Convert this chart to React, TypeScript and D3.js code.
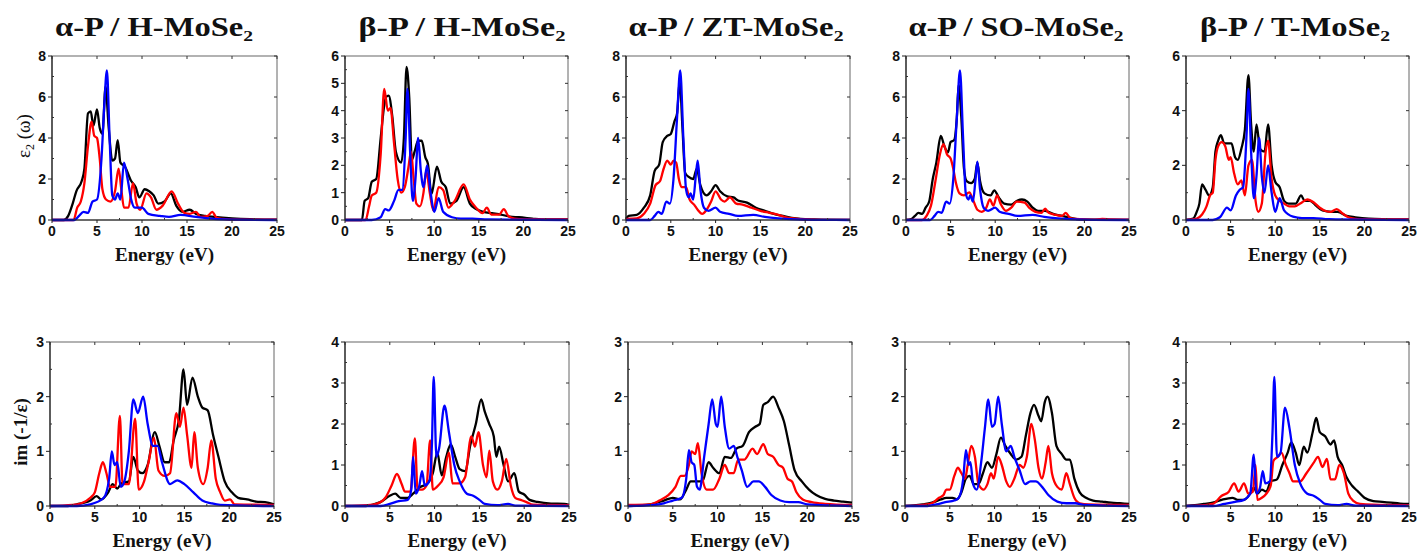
import React from "react";
import * as d3 from "d3";

type Pt = [number, number];

// ---- top row: eps2 (imaginary dielectric) ----
const aHEpsBlack: Pt[] = [[0,0],[1.3,0],[1.8,0.2],[2.3,0.8],[2.7,1.4],[3.3,1.9],[3.6,2.5],[4.0,5.2],[4.3,5.3],[4.6,4.6],[5.0,5.4],[5.3,4.5],[5.6,4.2],[5.95,6.5],[6.3,4.5],[6.7,2.9],[7.0,3.0],[7.3,3.9],[7.6,2.8],[8.1,2.6],[8.8,1.9],[9.3,1.6],[9.7,1.1],[10.3,1.5],[10.8,1.4],[11.3,1.2],[11.8,0.8],[12.5,0.9],[13.2,1.3],[13.8,0.7],[14.5,0.4],[15.3,0.5],[16,0.3],[17,0.2],[18,0.15],[20,0.08],[22,0.04],[25,0.02]];
const aHEpsRed: Pt[] = [[0,0],[2.4,0],[2.8,0.6],[3.2,0.9],[3.6,1.8],[4.0,3.6],[4.4,4.8],[4.7,4.1],[5.0,4.0],[5.3,3.0],[5.6,1.5],[6.0,1.0],[6.5,0.9],[7.0,1.4],[7.4,2.5],[7.7,1.5],[8.0,0.6],[8.5,0.6],[9.0,1.8],[9.4,0.8],[9.8,0.5],[10.5,1.3],[11.0,1.1],[11.6,0.5],[12.3,0.7],[13.3,1.4],[14.0,0.8],[14.7,0.35],[15.3,0.3],[16.0,0.4],[16.5,0.15],[17.3,0.2],[17.8,0.4],[18.3,0.1],[19,0.05],[20,0.02],[25,0.02]];
const aHEpsBlue: Pt[] = [[0,0],[2.5,0],[3.0,0.2],[3.5,0.4],[4.0,0.35],[4.5,0.9],[5.0,1.0],[5.5,3.0],[5.8,5.5],[6.1,7.3],[6.4,4.0],[6.7,1.2],[7.0,1.0],[7.3,1.3],[7.6,1.0],[8.0,2.8],[8.4,2.0],[8.8,1.0],[9.2,0.6],[10.0,0.6],[10.7,0.3],[12,0.2],[13,0.15],[14.3,0.25],[16,0.15],[18,0.05],[20,0.02],[25,0]];

const bHEpsBlack: Pt[] = [[0,0],[1.9,0],[2.2,0.7],[2.6,0.8],[3.0,1.4],[3.5,1.5],[4.0,3.0],[4.4,4.2],[4.6,4.5],[4.9,4.55],[5.3,3.8],[5.7,2.5],[6.3,2.1],[6.6,3.0],[6.9,5.6],[7.2,4.5],[7.5,2.2],[7.8,2.5],[8.2,2.9],[8.6,2.9],[9.0,2.3],[9.3,2.05],[9.7,0.95],[10.3,1.95],[10.8,1.4],[11.3,1.2],[11.8,0.6],[12.5,0.7],[13.3,1.2],[14.0,0.6],[14.7,0.4],[15.5,0.3],[16.5,0.25],[17.5,0.2],[18.5,0.12],[19.5,0.1],[21,0.05],[22,0.02],[25,0.02]];
const bHEpsRed: Pt[] = [[0,0],[2.3,0],[2.7,0.5],[3.0,0.9],[3.5,1.0],[4.0,2.4],[4.4,4.8],[4.8,4.0],[5.1,4.1],[5.5,2.8],[5.9,1.5],[6.3,1.0],[6.7,1.2],[7.1,1.9],[7.4,2.5],[7.7,1.5],[8.0,0.6],[8.4,0.5],[8.8,1.0],[9.1,1.8],[9.5,1.0],[9.9,0.35],[10.5,1.2],[11.0,1.1],[11.6,0.45],[12.3,0.7],[13.3,1.3],[14.0,0.75],[14.7,0.45],[15.4,0.25],[15.9,0.45],[16.4,0.2],[17.3,0.2],[17.8,0.4],[18.3,0.15],[19,0.05],[20,0.02],[25,0.02]];
const bHEpsBlue: Pt[] = [[0,0],[3,0],[4.0,0.1],[4.5,0.4],[4.9,0.35],[5.5,0.7],[6.0,1.1],[6.4,1.1],[6.8,3.0],[7.0,4.8],[7.3,2.5],[7.6,0.7],[7.9,1.5],[8.2,3.0],[8.5,1.8],[8.8,1.2],[9.2,2.0],[9.6,1.0],[10.0,0.3],[10.5,0.8],[11.0,0.3],[12,0.1],[13,0.05],[14.3,0.05],[16,0.02],[25,0]];

const aZTEpsBlack: Pt[] = [[0,0.05],[0.3,0.2],[1.2,0.25],[2.0,0.6],[2.7,1.2],[3.2,2.4],[3.7,2.7],[4.1,3.8],[4.6,4.1],[5.0,4.2],[5.4,4.8],[5.7,5.2],[6.0,6.8],[6.3,4.5],[6.6,2.3],[7.0,2.1],[7.5,2.0],[7.9,2.5],[8.3,1.7],[9.0,1.2],[9.5,1.4],[10.0,1.7],[10.5,1.4],[11.3,1.15],[12.0,1.1],[12.5,0.95],[13.5,0.85],[14.5,0.6],[15.5,0.45],[16.5,0.3],[17.5,0.2],[18.5,0.1],[19.5,0.05],[21,0.03],[25,0.01]];
const aZTEpsRed: Pt[] = [[0,0.05],[1.2,0.08],[2.0,0.3],[2.7,0.8],[3.3,1.7],[3.8,1.9],[4.2,2.5],[4.6,2.9],[5.0,2.7],[5.3,2.9],[5.6,2.8],[5.9,2.0],[6.2,1.6],[6.7,1.6],[7.1,1.0],[7.6,0.75],[8.0,0.5],[8.5,0.3],[9.0,0.5],[9.5,0.9],[10.0,1.4],[10.6,1.0],[11.0,0.9],[11.6,1.1],[12.3,0.8],[13.0,0.75],[14.0,0.6],[15.0,0.45],[16.0,0.35],[17.0,0.25],[18.0,0.12],[19,0.07],[20,0.03],[22,0.01],[25,0.01]];
const aZTEpsBlue: Pt[] = [[0,0],[2.7,0],[3.2,0.2],[3.6,0.4],[4.0,0.3],[4.5,0.9],[4.9,0.8],[5.3,2.0],[5.7,5.0],[6.05,7.3],[6.4,4.0],[6.7,1.5],[7.0,1.1],[7.2,1.3],[7.5,1.0],[7.8,2.2],[8.0,2.9],[8.3,1.5],[8.7,0.6],[9.2,0.45],[10.0,0.6],[10.5,0.4],[11.5,0.3],[12.5,0.2],[14.2,0.25],[15.5,0.15],[17,0.08],[19,0.03],[21,0.01],[25,0]];

const aSOEpsBlack: Pt[] = [[0,0],[0.6,0.05],[1.0,0.2],[1.4,0.35],[1.8,0.3],[2.2,0.6],[2.6,0.9],[3.0,2.0],[3.4,2.8],[3.9,4.1],[4.3,3.6],[4.7,3.3],[5.0,3.8],[5.4,3.9],[5.7,5.0],[5.9,6.6],[6.2,5.0],[6.5,2.5],[6.8,1.9],[7.3,1.8],[7.7,2.0],[8.0,2.8],[8.3,1.9],[8.8,1.3],[9.5,1.2],[9.9,1.45],[10.4,1.1],[11.0,0.8],[11.8,0.75],[12.5,0.95],[13.0,1.0],[13.6,0.9],[14.2,0.6],[14.8,0.45],[15.6,0.45],[16.5,0.3],[17.5,0.2],[18.5,0.1],[19.5,0.03],[21,0.02],[25,0.01]];
const aSOEpsRed: Pt[] = [[0,0],[1.8,0],[2.3,0.2],[2.8,0.7],[3.3,1.9],[3.8,3.2],[4.2,3.7],[4.6,3.2],[5.0,3.0],[5.3,2.5],[5.6,1.8],[6.0,1.3],[6.5,1.2],[7.1,1.35],[7.5,1.0],[8.0,0.5],[8.5,0.4],[9.0,0.6],[9.4,1.0],[9.8,0.7],[10.2,1.2],[10.6,0.8],[11.2,0.45],[11.8,0.6],[12.4,0.9],[13.3,0.85],[13.8,0.6],[14.5,0.4],[15.2,0.35],[15.6,0.55],[16.0,0.35],[16.8,0.25],[17.5,0.2],[17.9,0.35],[18.4,0.1],[19,0.05],[21,0.02],[22,0.05],[23,0.03],[25,0.02]];
const aSOEpsBlue: Pt[] = [[0,0],[2.7,0],[3.2,0.2],[3.6,0.4],[4.0,0.35],[4.5,0.9],[4.9,0.8],[5.3,2.0],[5.7,5.0],[6.05,7.3],[6.4,4.0],[6.7,1.3],[7.0,1.0],[7.2,1.2],[7.5,0.9],[7.8,2.0],[8.0,2.85],[8.3,1.5],[8.7,0.6],[9.2,0.45],[10.0,0.6],[10.5,0.4],[11.5,0.3],[12.5,0.2],[14.2,0.25],[15.5,0.15],[17,0.08],[19,0.03],[21,0.01],[25,0]];

const bTEpsBlack: Pt[] = [[0,0],[0.8,0.05],[1.2,0.3],[1.5,0.6],[1.8,1.3],[2.2,1.1],[2.6,0.9],[3.0,1.2],[3.3,2.5],[3.6,2.9],[3.9,3.1],[4.3,2.8],[4.7,2.8],[5.1,2.8],[5.5,2.3],[5.8,2.2],[6.2,2.6],[6.6,3.3],[7.0,5.3],[7.3,3.5],[7.6,2.5],[7.9,3.5],[8.3,2.6],[8.8,2.5],[9.2,3.5],[9.6,2.0],[10.0,1.4],[10.5,1.2],[11.0,0.7],[11.5,0.6],[12.3,0.6],[12.9,0.9],[13.3,0.7],[13.9,0.7],[14.5,0.55],[15.3,0.35],[16.3,0.3],[17.0,0.3],[18.0,0.15],[19.0,0.1],[20.5,0.05],[22,0.03],[25,0.02]];
const bTEpsRed: Pt[] = [[0,0],[1.2,0.05],[1.8,0.2],[2.3,0.5],[2.7,0.9],[3.0,1.0],[3.3,2.2],[3.6,2.7],[4.0,2.85],[4.4,2.7],[4.8,2.2],[5.0,2.3],[5.4,1.7],[5.8,1.3],[6.2,1.45],[6.6,0.9],[7.0,2.0],[7.4,2.2],[7.8,0.7],[8.1,0.3],[8.5,0.6],[8.9,2.4],[9.2,2.9],[9.6,1.5],[10.0,0.9],[10.5,0.7],[11.0,0.6],[11.6,0.5],[12.2,0.5],[12.8,0.6],[13.6,0.75],[14.3,0.65],[15.0,0.45],[15.5,0.35],[16.2,0.3],[16.9,0.4],[17.5,0.25],[18.2,0.1],[19,0.04],[20,0.02],[25,0.02]];
const bTEpsBlue: Pt[] = [[0,0],[3,0],[3.8,0.1],[4.6,0.45],[5.0,0.35],[5.6,0.9],[6.0,1.1],[6.4,1.2],[6.8,3.2],[7.0,4.8],[7.3,2.5],[7.6,0.8],[7.9,1.6],[8.2,3.0],[8.5,1.6],[8.8,1.0],[9.2,2.0],[9.6,1.0],[10.0,0.3],[10.5,0.8],[11.0,0.35],[12,0.12],[13,0.07],[14.3,0.07],[16,0.03],[25,0]];

// ---- bottom row: energy loss im(-1/eps) ----
const aHLossBlack: Pt[] = [[0,0],[2,0],[3,0.03],[4.5,0.1],[5.2,0.18],[5.7,0.12],[6.5,0.25],[7.0,0.4],[7.5,0.32],[8.0,0.42],[8.8,0.45],[9.3,0.9],[9.8,0.65],[10.3,0.6],[10.9,0.75],[11.7,1.35],[12.2,1.1],[12.8,0.8],[13.3,0.8],[13.8,1.2],[14.4,1.6],[14.9,2.5],[15.3,1.85],[15.9,2.35],[16.5,2.0],[17.0,1.8],[17.6,1.75],[18.2,1.3],[18.8,0.9],[19.5,0.45],[20.3,0.25],[21,0.15],[22,0.12],[23,0.08],[24,0.07],[25,0.03]];
const aHLossRed: Pt[] = [[0,0],[2.5,0.02],[3.5,0.05],[4.5,0.15],[5.0,0.25],[5.5,0.6],[5.9,0.8],[6.3,0.6],[6.7,0.35],[7.3,0.35],[7.8,1.65],[8.1,0.4],[8.8,0.4],[9.5,1.6],[9.9,0.3],[10.5,0.45],[11.0,0.8],[11.6,1.25],[12.1,0.65],[12.8,0.55],[13.4,0.6],[14.1,1.7],[14.5,1.45],[14.9,1.8],[15.3,1.3],[15.8,0.7],[16.1,1.35],[16.5,0.7],[17.1,0.4],[17.6,0.7],[18.0,1.2],[18.5,0.5],[19.0,0.25],[19.5,0.1],[20.1,0.12],[20.6,0.03],[25,0.02]];
const aHLossBlue: Pt[] = [[0,0],[3,0],[4.5,0.03],[6.0,0.15],[6.6,0.5],[6.9,1.0],[7.2,0.75],[7.5,0.8],[7.9,0.35],[8.3,0.45],[8.8,1.0],[9.3,1.95],[9.8,1.7],[10.4,2.0],[10.9,1.5],[11.5,1.1],[12.0,1.1],[12.5,0.8],[13.4,0.4],[14.2,0.47],[15.0,0.4],[16.0,0.25],[17,0.1],[18,0.05],[19,0.02],[25,0]];

const bHLossBlack: Pt[] = [[0,0],[2.3,0],[3,0.03],[4,0.1],[5.0,0.25],[5.6,0.3],[6.2,0.2],[7.0,0.2],[7.6,0.3],[8.3,0.45],[9.2,0.55],[9.8,0.8],[10.3,1.3],[10.8,0.75],[11.3,1.2],[11.8,1.5],[12.3,1.2],[12.8,0.9],[13.4,0.85],[14.0,1.5],[14.6,2.0],[15.2,2.6],[15.6,2.3],[16.1,2.0],[16.6,1.7],[16.9,1.2],[17.2,1.45],[17.7,1.0],[18.2,0.6],[18.9,0.8],[19.4,0.35],[20.0,0.28],[20.6,0.15],[21.5,0.1],[23,0.06],[24.5,0.05],[25,0.03]];
const bHLossRed: Pt[] = [[0,0],[2.5,0.02],[3.5,0.05],[4.5,0.2],[5.2,0.5],[5.8,0.78],[6.3,0.55],[6.7,0.35],[7.3,0.35],[7.8,1.65],[8.1,0.4],[8.6,0.4],[9.1,0.5],[9.5,1.6],[9.8,0.4],[10.4,0.5],[11.0,0.7],[11.6,1.3],[12.0,0.55],[12.8,0.55],[13.4,0.7],[14.1,1.7],[14.5,1.45],[14.9,1.8],[15.4,1.0],[15.8,0.7],[16.1,1.35],[16.5,0.6],[17.0,0.4],[17.5,0.6],[18.0,1.15],[18.5,0.5],[19.0,0.2],[19.6,0.15],[20.2,0.1],[21,0.03],[25,0.02]];
const bHLossBlue: Pt[] = [[0,0],[4,0],[5,0.05],[6,0.12],[7.0,0.15],[7.4,0.4],[7.6,1.2],[7.9,0.3],[8.3,0.5],[8.6,0.85],[8.9,0.5],[9.4,0.6],[9.7,1.5],[9.9,3.15],[10.2,1.2],[10.5,1.4],[11.1,2.45],[11.6,1.8],[12.2,1.0],[12.8,0.6],[13.6,0.3],[14.3,0.25],[15.0,0.15],[15.6,0.05],[17,0.02],[18.2,0.05],[19,0.01],[25,0]];

const aZTLossBlack: Pt[] = [[0,0],[2,0.02],[3,0.05],[4,0.1],[5.0,0.15],[5.8,0.12],[6.5,0.3],[7.0,0.45],[7.8,0.45],[8.3,0.45],[9.0,0.8],[9.5,0.7],[10.2,0.6],[10.8,0.9],[11.5,0.88],[12.1,1.05],[12.8,1.1],[13.5,1.35],[14.2,1.45],[14.7,1.5],[15.1,1.85],[15.6,1.9],[16.2,2.0],[16.8,1.8],[17.4,1.55],[18.0,1.1],[18.6,0.65],[19.4,0.45],[20.2,0.3],[21,0.2],[22,0.13],[23,0.1],[24,0.08],[25,0.06]];
const aZTLossRed: Pt[] = [[0,0.02],[2.5,0.03],[3.5,0.1],[4.5,0.2],[5.3,0.35],[5.9,0.55],[6.3,0.55],[6.8,0.75],[7.1,1.0],[7.5,0.95],[7.8,1.15],[8.2,0.6],[8.8,0.3],[9.5,0.3],[10.2,0.5],[10.8,0.75],[11.3,0.6],[11.8,0.6],[12.3,0.85],[13.0,0.85],[13.9,1.05],[14.4,0.95],[15.1,1.13],[15.6,0.95],[16.2,0.9],[16.8,0.75],[17.3,0.7],[17.8,0.5],[18.3,0.45],[18.8,0.25],[19.5,0.12],[20.5,0.07],[22,0.04],[25,0.02]];
const aZTLossBlue: Pt[] = [[0,0],[3,0.02],[4.0,0.05],[5.0,0.1],[6.0,0.15],[6.5,0.5],[6.8,1.02],[7.1,0.8],[7.4,0.75],[7.7,0.35],[8.0,0.3],[8.5,0.9],[9.0,1.5],[9.4,1.95],[9.8,1.5],[10.0,1.45],[10.4,2.0],[10.8,1.45],[11.3,1.05],[11.8,1.1],[12.2,0.9],[12.7,0.65],[13.3,0.35],[14.0,0.45],[14.6,0.45],[15.3,0.35],[16.0,0.2],[17,0.1],[18,0.07],[19,0.07],[20,0.03],[25,0]];

const aSOLossBlack: Pt[] = [[0,0],[1,0.01],[2,0.03],[3,0.06],[4.0,0.12],[4.6,0.15],[5.3,0.15],[5.8,0.12],[6.3,0.25],[6.8,0.5],[7.2,0.55],[7.7,0.4],[8.2,0.4],[8.7,0.6],[9.2,0.8],[9.7,0.7],[10.2,0.95],[10.7,1.25],[11.2,1.1],[11.8,0.95],[12.4,0.85],[13.0,0.9],[13.5,1.3],[14.0,1.7],[14.4,1.85],[14.9,1.65],[15.2,1.55],[15.6,1.9],[15.9,2.0],[16.4,1.7],[16.9,1.1],[17.5,0.95],[18.0,0.85],[18.4,0.85],[18.9,0.5],[19.5,0.25],[20.2,0.15],[21,0.1],[22,0.08],[23,0.06],[24,0.05],[25,0.04]];
const aSOLossRed: Pt[] = [[0,0],[2,0.02],[3,0.05],[3.8,0.15],[4.3,0.2],[4.6,0.3],[5.0,0.3],[5.5,0.55],[5.9,0.7],[6.3,0.6],[6.7,0.5],[7.0,0.75],[7.4,1.1],[7.8,0.9],[8.2,0.4],[8.8,0.3],[9.2,0.4],[9.6,0.6],[9.9,0.5],[10.4,0.9],[10.8,0.75],[11.3,0.45],[11.7,0.35],[12.2,0.5],[12.8,0.75],[13.2,0.7],[13.6,0.9],[14.1,1.5],[14.5,1.2],[14.9,0.7],[15.3,0.5],[15.7,0.8],[16.0,1.1],[16.4,0.6],[17.0,0.35],[17.5,0.3],[18.0,0.6],[18.4,0.4],[18.9,0.15],[19.5,0.05],[20.5,0.03],[25,0.02]];
const aSOLossBlue: Pt[] = [[0,0],[2.5,0],[3.5,0.03],[4.5,0.07],[5.5,0.1],[6.0,0.15],[6.5,0.5],[6.8,1.02],[7.1,0.75],[7.3,0.8],[7.6,0.4],[8.0,0.3],[8.5,0.8],[8.9,1.4],[9.3,1.95],[9.7,1.45],[10.0,1.5],[10.4,2.0],[10.8,1.5],[11.3,1.0],[11.8,1.1],[12.2,0.9],[12.8,0.65],[13.4,0.4],[14.0,0.45],[14.6,0.45],[15.3,0.35],[16.0,0.2],[17,0.08],[18,0.05],[19,0.05],[20,0.02],[25,0]];

const bTLossBlack: Pt[] = [[0,0],[1,0.02],[2,0.05],[3,0.08],[4,0.15],[5.2,0.2],[5.8,0.15],[6.5,0.15],[7.2,0.3],[7.6,0.45],[8.0,0.3],[8.5,0.4],[9.0,0.35],[9.5,0.6],[10.2,0.65],[10.8,1.0],[11.4,1.3],[11.8,1.55],[12.3,1.3],[12.7,1.0],[13.2,1.45],[13.6,1.3],[14.2,1.8],[14.6,2.15],[15.0,1.8],[15.6,1.7],[16.2,1.5],[16.6,1.6],[17.0,1.2],[17.5,1.0],[18.0,0.7],[18.6,0.5],[19.3,0.35],[20.0,0.2],[21,0.12],[22,0.1],[23,0.08],[24,0.06],[25,0.05]];
const bTLossRed: Pt[] = [[0,0],[2,0.02],[3,0.05],[4.0,0.25],[4.8,0.35],[5.4,0.55],[5.9,0.35],[6.5,0.55],[7.0,0.3],[7.5,0.35],[7.8,1.0],[8.0,0.15],[8.5,0.2],[9.0,0.3],[9.5,0.5],[9.8,1.1],[10.3,1.2],[10.7,1.3],[11.2,1.0],[11.6,0.8],[12.0,0.6],[12.8,0.6],[13.5,0.8],[14.3,1.05],[14.8,1.2],[15.3,0.95],[15.8,1.15],[16.2,0.65],[16.7,0.65],[17.2,1.0],[17.7,0.8],[18.2,0.3],[18.8,0.12],[19.5,0.05],[21,0.03],[25,0.02]];
const bTLossBlue: Pt[] = [[0,0],[3,0],[4.3,0.05],[5.5,0.1],[6.5,0.15],[7.2,0.3],[7.6,1.25],[7.9,0.3],[8.3,0.45],[8.6,0.85],[8.9,0.55],[9.4,0.6],[9.7,1.8],[9.9,3.15],[10.2,1.2],[10.6,1.3],[11.1,2.4],[11.6,1.9],[12.2,1.0],[12.8,0.55],[13.6,0.3],[14.3,0.25],[15.0,0.15],[15.6,0.05],[17,0.02],[18,0.05],[19,0.01],[25,0]];

const titles = ["α-P / H-MoSe₂", "β-P / H-MoSe₂", "α-P / ZT-MoSe₂", "α-P / SO-MoSe₂", "β-P / T-MoSe₂"];
const xTicks = [0, 5, 10, 15, 20, 25];
const epsMax = [8, 6, 8, 8, 6];
const epsStep = [2, 1, 2, 2, 2];
const lossMax = [3, 4, 3, 3, 4];

const epsSeries = [
  [aHEpsBlack, aHEpsRed, aHEpsBlue],
  [bHEpsBlack, bHEpsRed, bHEpsBlue],
  [aZTEpsBlack, aZTEpsRed, aZTEpsBlue],
  [aSOEpsBlack, aSOEpsRed, aSOEpsBlue],
  [bTEpsBlack, bTEpsRed, bTEpsBlue],
];
const lossSeries = [
  [aHLossBlack, aHLossRed, aHLossBlue],
  [bHLossBlack, bHLossRed, bHLossBlue],
  [aZTLossBlack, aZTLossRed, aZTLossBlue],
  [aSOLossBlack, aSOLossRed, aSOLossBlue],
  [bTLossBlack, bTLossRed, bTLossBlue],
];

// layout (pixels)
const topBoxes = [[52, 277], [345, 568], [626, 850], [906, 1129], [1186, 1409]];
const botBoxes = [[50, 274], [345, 569], [628, 852], [905, 1129], [1186, 1409]];
const titleX = [154, 462, 736, 1016, 1295];
const titleW = [198, 207, 215, 215, 190];
const colors = ["#000000", "#ff0000", "#0000ff"];

function Panel({ x0, x1, y0, y1, ymax, step, series }: any) {
  const x = d3.scaleLinear().domain([0, 25]).range([x0, x1]);
  const y = d3.scaleLinear().domain([0, ymax]).range([y1, y0]);
  const line = d3.line<Pt>().x(d => x(d[0])).y(d => y(d[1])).curve(d3.curveMonotoneX);
  const yTicks = d3.range(0, ymax + 0.001, step);
  const yMinor = d3.range(step / 2, ymax, step);
  const xMinor = d3.range(2.5, 25, 5);
  const font = "'Liberation Sans', Arial, sans-serif";
  return (
    <g>
      <rect x={x0} y={y0} width={x1 - x0} height={y1 - y0} fill="none" stroke="#666" strokeWidth={1} />
      {series.map((s: Pt[], i: number) => (
        <path key={i} d={line(s) || ""} fill="none" stroke={colors[i]} strokeWidth={2.3} strokeLinejoin="round" />
      ))}
      <line x1={x0} x2={x0} y1={y0} y2={y1} stroke="#222" strokeWidth={1.2} />
      <line x1={x0} x2={x1} y1={y1} y2={y1} stroke="#222" strokeWidth={1.2} />
      {yTicks.map(t => (
        <g key={"y" + t}>
          <line x1={x0 - 4} x2={x0} y1={y(t)} y2={y(t)} stroke="#222" />
          <line x1={x1 - 3} x2={x1} y1={y(t)} y2={y(t)} stroke="#333" />
          <text x={x0 - 6} y={y(t) + 5} textAnchor="end" fontFamily={font} fontWeight="bold" fontSize={14} fill="#111">{t}</text>
        </g>
      ))}
      {yMinor.map(t => (
        <line key={"ym" + t} x1={x0} x2={x0 + 2} y1={y(t)} y2={y(t)} stroke="#333" />
      ))}
      {xTicks.map(t => (
        <g key={"x" + t}>
          <line x1={x(t)} x2={x(t)} y1={y1} y2={y1 + 3} stroke="#222" />
          <line x1={x(t)} x2={x(t)} y1={y0} y2={y0 + 3} stroke="#333" />
          <text x={x(t)} y={y1 + 16} textAnchor="middle" fontFamily={font} fontWeight="bold" fontSize={14} fill="#111">{t}</text>
        </g>
      ))}
      {xMinor.map(t => (
        <line key={"xm" + t} x1={x(t)} x2={x(t)} y1={y1} y2={y1 - 2} stroke="#333" />
      ))}
      <text x={(x0 + x1) / 2} y={y1 + 41} textAnchor="middle" fontFamily="'Liberation Serif', 'Times New Roman', serif"
        fontWeight="bold" fontSize={19} textLength={99} lengthAdjust="spacingAndGlyphs" fill="#111">Energy (eV)</text>
    </g>
  );
}

export default function App() {
  const serif = "'Liberation Serif', 'Times New Roman', serif";
  return (
    <svg width={1420} height={557} style={{ position: "absolute", left: 0, top: 0, background: "#fff" }}>
      <rect width={1420} height={557} fill="#fff" />
      {titles.map((t, i) => (
        <text key={t} x={titleX[i]} y={36} textAnchor="middle" fontFamily={serif} fontWeight="bold" fontSize={27}
          textLength={titleW[i]} lengthAdjust="spacingAndGlyphs" fill="#111">{t}</text>
      ))}
      {epsSeries.map((s, i) => (
        <Panel key={"e" + i} x0={topBoxes[i][0]} x1={topBoxes[i][1]} y0={56} y1={220} ymax={epsMax[i]} step={epsStep[i]} series={s} />
      ))}
      {lossSeries.map((s, i) => (
        <Panel key={"l" + i} x0={botBoxes[i][0]} x1={botBoxes[i][1]} y0={342} y1={506} ymax={lossMax[i]} step={1} series={s} />
      ))}
      <text transform="translate(30,136) rotate(-90)" textAnchor="middle" fontFamily={serif} fontSize={19} fill="#111">
        ε<tspan fontSize={12} dy={4}>2</tspan><tspan dy={-4}> (ω)</tspan>
      </text>
      <text transform="translate(27,432) rotate(-90)" textAnchor="middle" fontFamily={serif} fontWeight="bold" fontSize={19} fill="#111">
        im (-1/ε)
      </text>
    </svg>
  );
}
